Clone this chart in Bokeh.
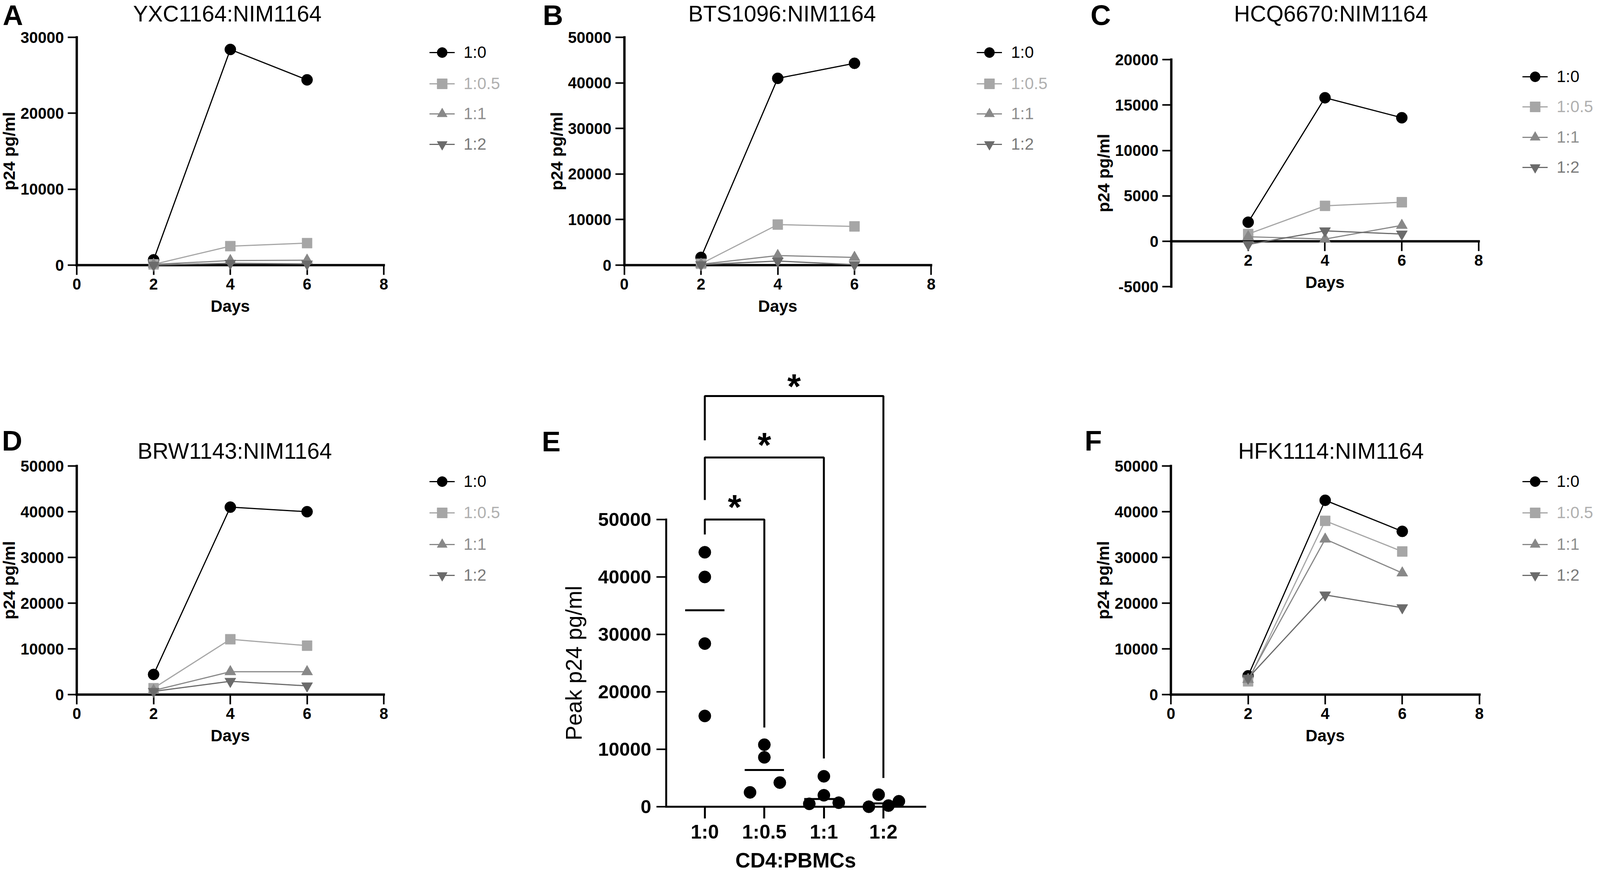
import numpy as np
from bokeh.plotting import figure
from bokeh.models import Label, Legend, LegendItem, FixedTicker
from bokeh.layouts import row, column
from bokeh.embed import file_html
from bokeh.resources import INLINE
from bokeh.core.properties import value

# ---------------- data ----------------
days = [2, 4, 6]
ratios = ["1:0", "1:0.5", "1:1", "1:2"]

A_title = "YXC1164:NIM1164"
A_10 = [700, 28400, 24400]
A_105 = [100, 2500, 2900]
A_11 = [100, 600, 650]
A_12 = [0, 250, 150]

B_title = "BTS1096:NIM1164"
B_10 = [1700, 41000, 44300]
B_105 = [300, 8900, 8500]
B_11 = [200, 2100, 1700]
B_12 = [100, 900, 100]

C_title = "HCQ6670:NIM1164"
C_10 = [2100, 15800, 13600]
C_105 = [800, 3900, 4300]
C_11 = [500, 250, 1750]
C_12 = [-350, 1150, 800]

D_title = "BRW1143:NIM1164"
D_10 = [4400, 41000, 40000]
D_105 = [1400, 12100, 10700]
D_11 = [900, 5000, 5000]
D_12 = [700, 2900, 1900]

F_title = "HFK1114:NIM1164"
F_10 = [4100, 42500, 35700]
F_105 = [2900, 38000, 31300]
F_11 = [3300, 34000, 26600]
F_12 = [3600, 21800, 19000]

E_10 = [44300, 40000, 28400, 15800]
E_105 = [10800, 8600, 4200, 2500]
E_11 = [5300, 2000, 500, 700]
E_12 = [2100, 0, 200, 950]
E_jitter = [[0, 0, 0, 0], [0, 0, 0.26, -0.24], [0, 0, -0.245, 0.25], [-0.08, -0.245, 0.085, 0.26]]

sig_pairs = [(0, 1), (0, 2), (0, 3)]
sig_bar_y = [50000, 60800, 71500]
sig_left_end = [47400, 53400, 63800]
sig_right_end = [13800, 8400, 5000]
sig_star_y = [53500, 64300, 74500]
sig_text = ["*", "*", "*"]

# ---------------- styles ----------------
# geometry below is in reference-picture px; the usable page width is narrower,
# so horizontal screen sizes are scaled by SX, vertical ones kept.
SX = 4080 / 4534
SY = 1.0
SF = 0.95
COLORS = ["#000000", "#a6a6a6", "#888888", "#6b6b6b"]
TEXT_COLORS = ["#000000", "#b0b0b0", "#8e8e8e", "#7a7a7a"]
MARKERS = ["circle", "square", "triangle", "inverted_triangle"]
MSIZES = [30, 27, 30, 30]
FONT = "Liberation Sans"
TFONT = "Liberation Sans"


def fs(v):
    n = int(round(v * SF))
    if n % 100 == 0:
        n += 1
    return f"{n}px"


def lin(pa, va, pb, vb):
    k = (vb - va) / (pb - pa)
    return lambda p: va + (p - pa) * k


def base_fig(rect, fx, fy):
    left, top, w, h = rect
    p = figure(width=int(round(w * SX)), height=int(round(h * SY)),
               x_range=(fx(left), fx(left + w)),
               y_range=(fy(top + h), fy(top)),
               output_backend="svg", toolbar_location=None, min_border=0,
               title=None)
    p.xgrid.visible = False
    p.ygrid.visible = False
    p.outline_line_color = None
    p.background_fill_color = "white"
    p.border_fill_color = "white"
    return p


def style_axis(ax, horiz, lw, tick_out, tick_w, lab_fs, lab_standoff, title, title_fs, title_style,
               title_standoff):
    k = SY if horiz else SX
    ax.axis_line_width = lw
    ax.axis_line_color = "black"
    ax.axis_line_cap = "square"
    ax.major_tick_line_width = tick_w
    ax.major_tick_line_color = "black"
    ax.major_tick_out = int(round(tick_out * k))
    ax.major_tick_in = 0
    ax.minor_tick_out = 0
    ax.minor_tick_in = 0
    ax.major_label_text_font = FONT
    ax.major_label_text_font_style = "bold"
    ax.major_label_text_font_size = fs(lab_fs)
    ax.major_label_text_color = "black"
    ax.major_label_standoff = int(round(lab_standoff * k))
    ax.axis_label = title
    ax.axis_label_text_font = FONT
    ax.axis_label_text_font_size = fs(title_fs)
    ax.axis_label_text_font_style = title_style
    ax.axis_label_text_color = "black"
    ax.axis_label_standoff = int(round(title_standoff * k))
    ax.level = "underlay"


def add_text(p, fx, fy, px, py, text, size, font, style):
    p.add_layout(Label(x=fx(px), y=fy(py), text=text, text_align="center", text_baseline="middle",
                       text_font=font, text_font_size=fs(size), text_font_style=style,
                       text_color="black"))


def line_panel(rect, fx, fy, title, title_xy, letter, letter_xy, series, xticks, ybounds, yticks,
               legend_left, legend_rows, overrides=None):
    p = base_fig(rect, fx, fy)
    left, top, w, h = rect
    rends = []
    for vals, c, m, s in zip(series, COLORS, MARKERS, MSIZES):
        rl = p.line(days, vals, line_color=c, line_width=3)
        rs = p.scatter(days, vals, marker=m, size=s * SF, fill_color=c, line_color=c)
        rends.append((rl, rs))
    xa = p.xaxis[0]
    ya = p.yaxis[0]
    xa.fixed_location = 0
    ya.fixed_location = 0
    xa.bounds = (0, 8)
    ya.bounds = ybounds
    xa.ticker = FixedTicker(ticks=xticks)
    ya.ticker = FixedTicker(ticks=yticks)
    if overrides:
        ya.major_label_overrides = overrides
    style_axis(xa, True, 6, 25, 4, 42, 9, "Days", 44, "bold", 16)
    style_axis(ya, False, 6, 26, 4, 42, 11, "p24 pg/ml", 45, "bold", 2)
    add_text(p, fx, fy, title_xy[0], title_xy[1], title, 60, TFONT, "normal")
    add_text(p, fx, fy, letter_xy[0], letter_xy[1], letter, 76, FONT, "bold")
    GW, GH = 72, 76
    for lab, (rl, rs), tc, ry in zip(ratios, rends, TEXT_COLORS, legend_rows):
        vx = (legend_left - left) * SX
        vy = ((top + h) - (ry + GH / 2)) * SY
        lg = Legend(items=[LegendItem(label=value(lab), renderers=[rl, rs])],
                    location=(vx, vy), glyph_width=int(round(GW * SX)), glyph_height=int(round(GH * SY)),
                    label_height=int(round(GH * SY)),
                    label_standoff=int(round(26 * SX)), padding=0, margin=0, spacing=0,
                    border_line_color=None, background_fill_alpha=0,
                    label_text_font=FONT, label_text_font_size=fs(44), label_text_color=tc)
        p.add_layout(lg)
    return p


# ---------------- panels (geometry in reference px) ----------------
ROW1_H = 892
ROW2_H = 1343
rowA = [142, 222, 299, 377]
rowC = [204, 281, 359, 436]
rowD = [1240, 1320, 1401, 1480]

fxA = lin(226, 0, 1099, 8)
pA = line_panel((8, 8, 1492, ROW1_H), fxA, lin(686, 0, 103, 30000), A_title, (654, 42), "A", (44, 46),
                [A_10, A_105, A_11, A_12], [0, 2, 4, 6, 8], (0, 30000), [0, 10000, 20000, 30000],
                1229, rowA)

pB = line_panel((1500, 8, 1550, ROW1_H), lin(1783, 0, 2656, 8), lin(686, 0, 103, 50000), B_title, (2232, 42),
                "B", (1580, 46), [B_10, B_105, B_11, B_12], [0, 2, 4, 6, 8], (0, 50000),
                [0, 10000, 20000, 30000, 40000, 50000], 2786, rowA)

pC = line_panel((3050, 8, 1492, ROW1_H), lin(3339, 0, 4213, 8), lin(625, 0, 160, 20000), C_title, (3793, 42),
                "C", (3138, 46), [C_10, C_105, C_11, C_12], [2, 4, 6, 8], (-5000, 20000),
                [-5000, 0, 5000, 10000, 15000, 20000], 4338, rowC, overrides={-5000: "-5000"})

pD = line_panel((8, 900, 1492, ROW2_H), fxA, lin(1785, 0, 1200, 50000), D_title, (675, 1161), "D", (42, 1135),
                [D_10, D_105, D_11, D_12], [0, 2, 4, 6, 8], (0, 50000),
                [0, 10000, 20000, 30000, 40000, 50000], 1229, rowD)

pF = line_panel((3050, 900, 1492, ROW2_H), lin(3338, 0, 4215, 8), lin(1785, 0, 1200, 50000), F_title,
                (3793, 1161), "F", (3117, 1135), [F_10, F_105, F_11, F_12], [0, 2, 4, 6, 8], (0, 50000),
                [0, 10000, 20000, 30000, 40000, 50000], 4338, rowD)

# ---------------- panel E ----------------
rectE = (1500, 900, 1550, ROW2_H)
fxE = lin(2012, 0, 2520, 3)
fyE = lin(2072, 0, 1337, 50000)
pyE = lin(0, 2072, 50000, 1337)
pE = base_fig(rectE, fxE, fyE)
add_text(pE, fxE, fyE, 1575, 1137, "E", 76, FONT, "bold")
groups = [E_10, E_105, E_11, E_12]
for i, (g, jit) in enumerate(zip(groups, E_jitter)):
    xs = [i + j for j in jit]
    pE.scatter(xs, g, marker="circle", size=33 * SF, fill_color="black", line_color="black")
cats = np.arange(len(groups))
meds = [float(np.median(g)) for g in groups]
pE.segment(x0=list(cats - 0.33), x1=list(cats + 0.33), y0=meds, y1=meds, line_color="black", line_width=5)

for (a, b), yb, yl, yr in zip(sig_pairs, sig_bar_y, sig_left_end, sig_right_end):
    pE.line([a, a, b, b], [yl, yb, yb, yr], line_color="black", line_width=5)

STAR_FS = 94
for (a, b), sy, st in zip(sig_pairs, sig_star_y, sig_text):
    pE.add_layout(Label(x=(a + b) / 2, y=fyE(pyE(sy) + 0.21 * STAR_FS * SF), text=st,
                        text_align="center", text_baseline="middle", text_font=FONT,
                        text_font_size=fs(STAR_FS), text_font_style="bold", text_color="black"))

xaE = pE.xaxis[0]
yaE = pE.yaxis[0]
xaE.fixed_location = 0
yaE.fixed_location = -0.65
xaE.bounds = (-0.65, 3.7)
yaE.bounds = (0, 50000)
xaE.ticker = FixedTicker(ticks=list(range(len(ratios))))
xaE.major_label_overrides = {i: r for i, r in enumerate(ratios)}
yaE.ticker = FixedTicker(ticks=[0, 10000, 20000, 30000, 40000, 50000])
style_axis(xaE, True, 5, 30, 5, 53, 6, "CD4:PBMCs", 56, "bold", 12)
style_axis(yaE, False, 5, 28, 4, 52, 15, "Peak p24 pg/ml", 60, "normal", 30)

layout = column(row(pA, pB, pC), row(pD, pE, pF))
open("out.html", "w").write(file_html(layout, INLINE))
